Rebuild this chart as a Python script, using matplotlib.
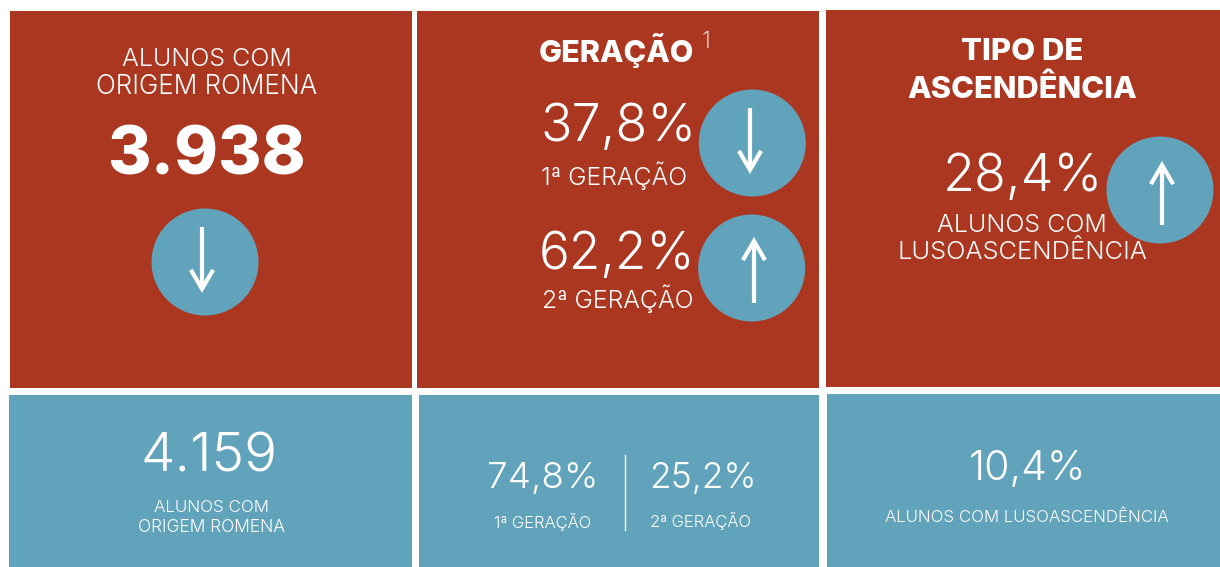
import matplotlib
matplotlib.use("Agg")
import matplotlib.pyplot as plt
from matplotlib.patches import Rectangle, Circle, FancyArrowPatch

RED = "#AB3721"
BLUE = "#62A3BC"
FONT = "Inter"

W, H = 1220, 567
fig = plt.figure(figsize=(W / 100, H / 100), dpi=100, facecolor="white")
ax = fig.add_axes([0, 0, 1, 1])
ax.set_xlim(0, W)
ax.set_ylim(H, 0)
ax.axis("off")

red_panels = [(10, 11, 402, 377), (417, 11, 402, 377), (826, 10, 394, 377)]
blue_panels = [(8.5, 395, 403.5, 172), (419, 395, 400, 172), (827, 394, 393, 173)]
for x, y, w, h in red_panels:
    ax.add_patch(Rectangle((x, y), w, h, fc=RED, ec="none"))
for x, y, w, h in blue_panels:
    ax.add_patch(Rectangle((x, y), w, h, fc=BLUE, ec="none"))

def t(x, y, s, size, weight=300, ha="center"):
    ax.text(x, y, s, fontsize=size, color="white", family=FONT, weight=weight,
            ha=ha, va="center")

def arrow(cx, cy, ax_x, y_start, y_end):
    ax.add_patch(Circle((cx, cy), 53.5, fc=BLUE, ec="none", zorder=3))
    ax.add_patch(FancyArrowPatch((ax_x, y_start), (ax_x, y_end),
                                 arrowstyle="->,head_length=7.2,head_width=4.2",
                                 mutation_scale=1.9, lw=3.0, color="white", zorder=4,
                                 shrinkA=0, shrinkB=0, capstyle="butt", joinstyle="miter"))

# Panel 1
t(207, 60, "ALUNOS COM", 18)
t(207, 87, "ORIGEM ROMENA", 18.8)
t(206, 157, "3.938", 47.8, 800)
arrow(205, 262, 202, 227, 293)

# Panel 2
t(616, 50, "GERAÇÃO", 22, 800)
t(706, 42, "1", 17, 200)
t(619, 127, "37,8%", 37.5, 300)
t(614, 176, "1ª GERAÇÃO", 17.8)
arrow(752.3, 143, 750, 108, 174)
t(617, 256, "62,2%", 37, 300)
t(617.5, 299, "2ª GERAÇÃO", 17.8)
arrow(751.7, 268, 754, 303, 237)

# Panel 3
t(1022, 52, "TIPO DE", 22.4, 800)
t(1022, 89, "ASCENDÊNCIA", 22.2, 800)
t(1023, 178, "28,4%", 37.5, 300)
t(1022, 225, "ALUNOS COM", 18)
t(1022, 252, "LUSOASCENDÊNCIA", 18.3)
arrow(1160, 190, 1162, 225, 161)

# Bottom row
t(209.5, 458, "4.159", 39.5, 300)
t(211, 508, "ALUNOS COM", 12.2)
t(211, 527, "ORIGEM ROMENA", 12.5)

t(543, 478, "74,8%", 26.5, 300)
t(542.5, 522, "1ª GERAÇÃO", 11.9)
t(702.5, 478, "25,2%", 25.5, 300)
t(700.5, 521, "2ª GERAÇÃO", 11.9)
ax.plot([625, 625], [455, 530], color="white", lw=1.0)

t(1027, 469, "10,4%", 29.5, 300)
t(1027, 517, "ALUNOS COM LUSOASCENDÊNCIA", 12.1)

fig.savefig("out.png", dpi=100, facecolor="white")
